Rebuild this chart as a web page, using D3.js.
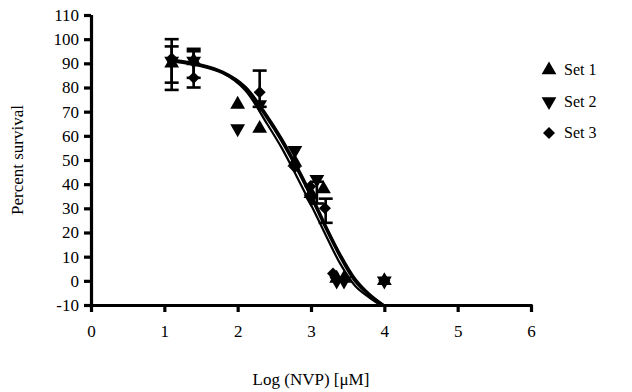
<!DOCTYPE html>
<html><head><meta charset="utf-8">
<script src="https://cdn.jsdelivr.net/npm/d3@7"></script>
<style>body{margin:0;background:#fff}svg{display:block}svg text{font-family:"Liberation Serif","DejaVu Serif",serif !important;fill:#000}</style>
</head><body><svg id="c" width="632" height="392"></svg>
<script>
const xTicks = [0,1,2,3,4,5,6];
const yTicks = [-10,0,10,20,30,40,50,60,70,80,90,100,110];
const seriesNames = ["Set 1","Set 2","Set 3"];
const set1 = [[1.1,90],[1.4,91],[2.0,73],[2.3,63],[2.78,49],[3.0,36],[3.17,38],[3.35,1],[3.45,1],[4.0,0]];
const set2 = [[1.1,91],[1.4,91],[2.0,63],[2.3,73],[2.78,54],[3.0,34],[3.08,42],[3.35,0],[3.45,0],[4.0,0]];
const set3 = [[1.1,92],[1.4,84],[2.3,78],[2.78,47],[2.99,39],[3.19,30],[3.3,3],[4.0,0]];
const errBars = [[1.1,82,100],[1.1,79,97],[1.4,80,96],[1.4,84,95],[2.3,72,87],[3.08,32,41],[3.2,24,34]];
const curve1 = [[1.1,91.5],[1.5,89],[1.8,86],[2.1,79],[2.4,65],[2.6,55],[2.8,43.5],[3.0,31.5],[3.2,19],[3.4,7],[3.6,-2],[3.8,-7],[3.95,-10]];
const curve2 = [[1.1,91.5],[1.5,89.5],[1.8,86.5],[2.1,80.5],[2.4,68.5],[2.6,59],[2.8,48],[3.0,36],[3.2,23],[3.4,11],[3.6,1],[3.8,-5.5],[3.99,-10]];
const curve3 = [[1.1,91],[1.5,89],[1.8,86],[2.1,80],[2.4,67.5],[2.6,58],[2.8,47],[3.0,35],[3.2,22],[3.4,10],[3.6,0],[3.8,-6],[3.98,-10]];

const svg = d3.select("#c");
const x = d3.scaleLinear().domain([0,6]).range([91,531]);
const y = d3.scaleLinear().domain([-10,110]).range([305,15]);

// axes
const xa = svg.append("g").attr("transform",`translate(0,${y(-10)})`)
  .call(d3.axisBottom(x).tickValues(xTicks).tickSize(7).tickPadding(13).tickFormat(d=>String(d)));
const ya = svg.append("g").attr("transform",`translate(${x(0)},0)`)
  .call(d3.axisLeft(y).tickValues(yTicks).tickSize(7).tickPadding(5).tickFormat(d=>String(d)));
[xa,ya].forEach(a=>{
  a.attr("font-family","Liberation Serif");
  a.select(".domain").attr("stroke","#000").attr("stroke-width",3.2);
  a.selectAll(".tick line").attr("stroke","#000").attr("stroke-width",3.2);
  a.selectAll("text").attr("font-size",17);
});
xa.select(".domain").attr("d",`M${x(0)-3},0.5H${x(6)+1.5}`);
ya.select(".domain").attr("d",`M0.5,${y(110)}V${y(-10)+1.5}`);

// curves
const line = d3.line().x(d=>x(d[0])).y(d=>y(d[1])).curve(d3.curveCatmullRom.alpha(0.5));
[curve1,curve2,curve3].forEach((c,i)=>{
  svg.append("path").attr("d",line(c)).attr("fill","none").attr("stroke","#000").attr("stroke-width",i==2?3:2.2);
});

// error bars
const eb = svg.append("g").attr("stroke","#000").attr("stroke-width",2.6);
errBars.forEach(e=>{
  eb.append("line").attr("x1",x(e[0])).attr("x2",x(e[0])).attr("y1",y(e[1])).attr("y2",y(e[2]));
  [e[1],e[2]].forEach(v=>eb.append("line").attr("x1",x(e[0])-7).attr("x2",x(e[0])+7).attr("y1",y(v)).attr("y2",y(v)));
});

// markers
const up = d3.symbol().type(d3.symbolTriangle).size(95);
const dia = d3.symbol().type(d3.symbolSquare).size(72);
function drawSet(data, sym, rot){
  svg.append("g").selectAll("path").data(data).join("path")
    .attr("d",sym).attr("fill","#000")
    .attr("transform",d=>`translate(${x(d[0])},${y(d[1])}) rotate(${rot})`);
}
drawSet(set1, up(), 0);
drawSet(set2, up(), 180);
drawSet(set3, dia(), 45);

// legend
const leg = svg.append("g");
const legSyms = [[up(),0],[up(),180],[dia(),45]];
seriesNames.forEach((n,i)=>{
  const yy = 70 + i*31.5;
  leg.append("path").attr("d",legSyms[i][0]).attr("fill","#000")
    .attr("transform",`translate(549,${yy}) rotate(${legSyms[i][1]})`);
  leg.append("text").attr("x",564).attr("y",yy+5).attr("font-size",16).text(n);
});

// titles
svg.append("text").attr("transform","translate(23,160) rotate(-90)").attr("text-anchor","middle")
  .attr("font-size",17).text("Percent survival");
svg.append("text").attr("x",311).attr("y",385).attr("text-anchor","middle")
  .attr("font-size",17).text("Log (NVP) [μM]");
</script></body></html>
